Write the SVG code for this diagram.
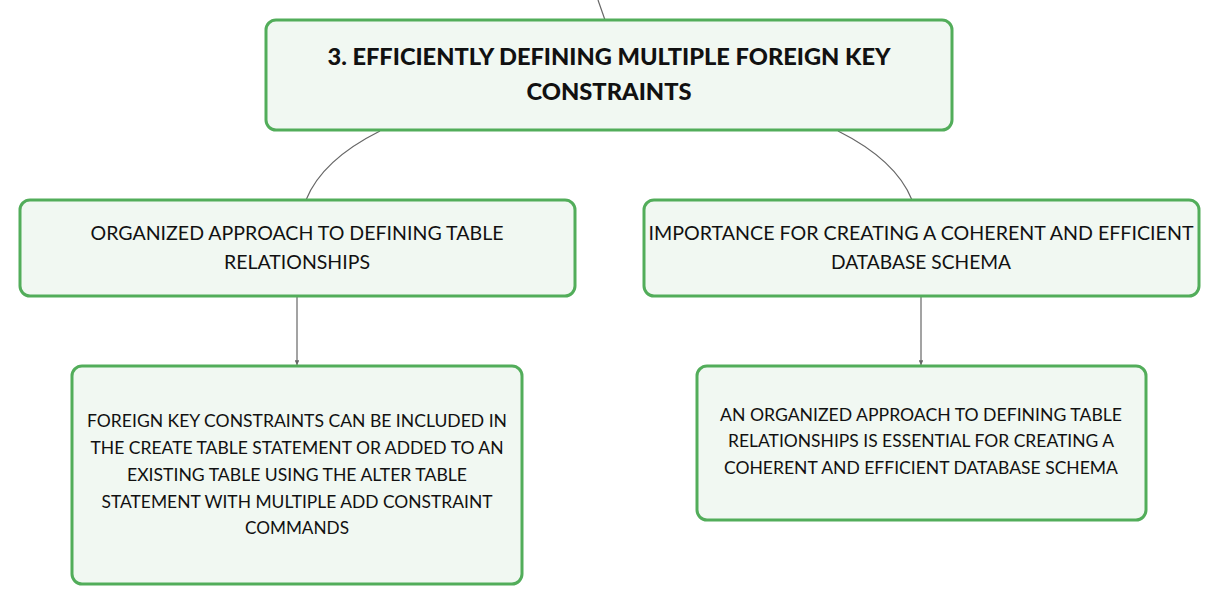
<svg xmlns="http://www.w3.org/2000/svg" width="1219" height="605" viewBox="0 0 1219 605">
<style>
.box{fill:#f1f8f2;stroke:#52ad5a;stroke-width:3}
.t{font-family:Lato,"Noto Sans",sans-serif;font-size:19px;fill:#111;text-anchor:middle}
.s{font-size:17.5px}
.tb{font-family:Lato,"Noto Sans",sans-serif;font-size:23px;font-weight:900;fill:#111;text-anchor:middle}
.c{fill:none;stroke:#666;stroke-width:1.2}
</style>
<defs>
<marker id="ar" viewBox="0 0 6 6" refX="6" refY="3" markerWidth="4" markerHeight="4" orient="auto">
<path d="M0,0 L6,3 L0,6 z" fill="#666"/>
</marker>
</defs>
<rect width="1219" height="605" fill="#fff"/>
<g id="connectors">
<path class="c" d="M598,0 L605,20"/>
<path class="c" d="M380,131 Q322,160 306,200"/>
<path class="c" d="M838,131 Q896,160 912,200"/>
<path class="c" d="M297,297 L297,365" marker-end="url(#ar)"/>
<path class="c" d="M921,297 L921,365" marker-end="url(#ar)"/>
</g>
<g id="root">
<rect class="box" x="266" y="20" width="686" height="110" rx="10"/>
<text class="tb" x="609" y="65" textLength="563" lengthAdjust="spacingAndGlyphs">3. EFFICIENTLY DEFINING MULTIPLE FOREIGN KEY</text>
<text class="tb" x="609" y="100" textLength="165" lengthAdjust="spacingAndGlyphs">CONSTRAINTS</text>
</g>
<g id="left1">
<rect class="box" x="20" y="200" width="555" height="96" rx="10"/>
<text class="t" x="297" y="240" textLength="413" lengthAdjust="spacingAndGlyphs">ORGANIZED APPROACH TO DEFINING TABLE</text>
<text class="t" x="297" y="269" textLength="146" lengthAdjust="spacingAndGlyphs">RELATIONSHIPS</text>
</g>
<g id="right1">
<rect class="box" x="644" y="200" width="555" height="96" rx="10"/>
<text class="t" x="921" y="240" textLength="545" lengthAdjust="spacingAndGlyphs">IMPORTANCE FOR CREATING A COHERENT AND EFFICIENT</text>
<text class="t" x="921" y="269" textLength="180" lengthAdjust="spacingAndGlyphs">DATABASE SCHEMA</text>
</g>
<g id="left2">
<rect class="box" x="72" y="366" width="450" height="218" rx="10"/>
<text class="t s" x="297" y="427" textLength="420" lengthAdjust="spacingAndGlyphs">FOREIGN KEY CONSTRAINTS CAN BE INCLUDED IN</text>
<text class="t s" x="297" y="454" textLength="413" lengthAdjust="spacingAndGlyphs">THE CREATE TABLE STATEMENT OR ADDED TO AN</text>
<text class="t s" x="297" y="481" textLength="340" lengthAdjust="spacingAndGlyphs">EXISTING TABLE USING THE ALTER TABLE</text>
<text class="t s" x="297" y="508" textLength="391" lengthAdjust="spacingAndGlyphs">STATEMENT WITH MULTIPLE ADD CONSTRAINT</text>
<text class="t s" x="297" y="534" textLength="104" lengthAdjust="spacingAndGlyphs">COMMANDS</text>
</g>
<g id="right2">
<rect class="box" x="697" y="366" width="449" height="154" rx="10"/>
<text class="t s" x="921" y="421" textLength="402" lengthAdjust="spacingAndGlyphs">AN ORGANIZED APPROACH TO DEFINING TABLE</text>
<text class="t s" x="921" y="447" textLength="386" lengthAdjust="spacingAndGlyphs">RELATIONSHIPS IS ESSENTIAL FOR CREATING A</text>
<text class="t s" x="921" y="474" textLength="394" lengthAdjust="spacingAndGlyphs">COHERENT AND EFFICIENT DATABASE SCHEMA</text>
</g>
</svg>
